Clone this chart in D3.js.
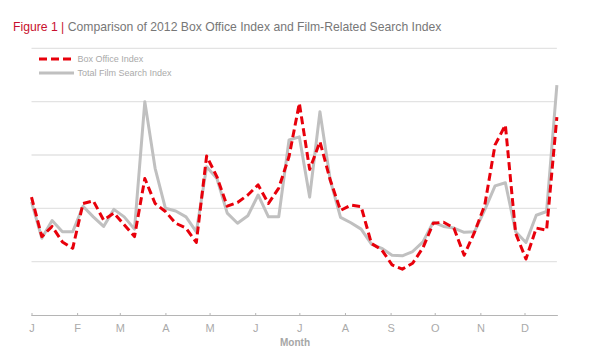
<!DOCTYPE html>
<html><head><meta charset="utf-8">
<script src="https://cdn.jsdelivr.net/npm/d3@7"></script>
<style>body{margin:0;background:#fff;} svg{display:block;font-family:"Liberation Sans",Arial,sans-serif;}</style>
</head><body>
<svg id="chart" width="593" height="359"></svg>
<script>
const monthLabels = ["J","F","M","A","M","J","J","A","S","O","N","D"];
const gridValues = [1,2,3,4,5];
// Weekly index values, 2012 (52 weeks)
const boxOffice = [2.21,1.47,1.66,1.37,1.25,2.09,2.14,1.78,1.91,1.69,1.47,2.56,2.09,1.94,1.72,1.63,1.36,2.98,2.59,2.04,2.11,2.25,2.44,2.09,2.38,2.97,3.97,2.73,3.25,2.53,1.96,2.06,2.03,1.34,1.22,0.94,0.86,0.97,1.26,1.72,1.74,1.63,1.12,1.55,2.06,3.19,3.56,1.53,1.05,1.63,1.59,3.71];
const filmSearch = [2.12,1.44,1.77,1.56,1.56,2.04,1.84,1.66,1.98,1.84,1.61,4.0,2.75,2.0,1.95,1.84,1.56,2.78,2.56,1.91,1.72,1.86,2.25,1.84,1.84,3.28,3.34,2.21,3.81,2.53,1.83,1.73,1.61,1.33,1.25,1.12,1.11,1.19,1.37,1.74,1.66,1.63,1.55,1.56,1.97,2.42,2.48,1.56,1.36,1.87,1.94,4.31];

const svg = d3.select("#chart");
const weekDate = i => new Date(2012, 0, 1 + 7 * i);
const x = d3.scaleTime().domain([new Date(2012,0,1), new Date(2012,11,1)]).range([31.5, 524.5]);
const y = d3.scaleLinear().domain([0,5]).range([315, 48.3]);
const xEnd = x(weekDate(boxOffice.length - 1));

// title
const title = svg.append("text").attr("x", 13).attr("y", 30.5).style("font-size","12.2px");
title.append("tspan").attr("fill","#c8102e").text("Figure 1 | ");
title.append("tspan").attr("fill","#777").text("Comparison of 2012 Box Office Index and Film-Related Search Index");

// gridlines
svg.append("g").selectAll("line").data(gridValues).join("line")
  .attr("x1", 31.5).attr("x2", xEnd)
  .attr("y1", d => y(d)).attr("y2", d => y(d))
  .attr("stroke", "#e3e3e3").attr("stroke-width", 1.3);

// x axis
const monthTicks = d3.range(12).map(m => new Date(2012, m, 1));
const xAxis = d3.axisBottom(x).tickValues(monthTicks).tickFormat((d,i) => monthLabels[i]).tickSize(3).tickSizeOuter(0).tickPadding(6);
const gx = svg.append("g").attr("transform","translate(0,315)").call(xAxis);
gx.select(".domain").remove();
gx.append("line").attr("x1",31.5).attr("x2",xEnd+1).attr("y1",0.5).attr("y2",0.5).attr("stroke","#b5b5b5").attr("stroke-width",1.2);
gx.selectAll(".tick line").attr("stroke","#b5b5b5").attr("y1",-2).attr("y2",1);
gx.selectAll(".tick text").attr("fill","#aaa").style("font-size","11px").style("font-family","'Liberation Sans',Arial,sans-serif");

svg.append("text").attr("x", 295).attr("y", 345.5).attr("text-anchor","middle")
  .attr("fill","#a6a6a6").style("font-size","10px").style("font-weight","bold").text("Month");

// lines
const line = d3.line().x((d,i) => x(weekDate(i))).y(d => y(d)).curve(d3.curveLinear);
svg.append("path").datum(filmSearch).attr("d", line).attr("fill","none")
  .attr("stroke","#c0c0c0").attr("stroke-width",3).attr("stroke-linejoin","round");
svg.append("path").datum(boxOffice).attr("d", line).attr("fill","none")
  .attr("stroke","#e8000b").attr("stroke-width",3).attr("stroke-dasharray","8,4").attr("stroke-linejoin","round");

// legend
const legend = svg.append("g");
const legendItems = [
  {label:"Box Office Index", color:"#e8000b", dash:"8,4", y:59},
  {label:"Total Film Search Index", color:"#c0c0c0", dash:null, y:73}
];
legendItems.forEach(it => {
  legend.append("line").attr("x1",39).attr("x2",74).attr("y1",it.y).attr("y2",it.y)
    .attr("stroke",it.color).attr("stroke-width",3).attr("stroke-dasharray",it.dash);
  legend.append("text").attr("x",77.5).attr("y",it.y+3.2).attr("fill","#aaa").style("font-size","9px").text(it.label);
});
</script>
</body></html>
